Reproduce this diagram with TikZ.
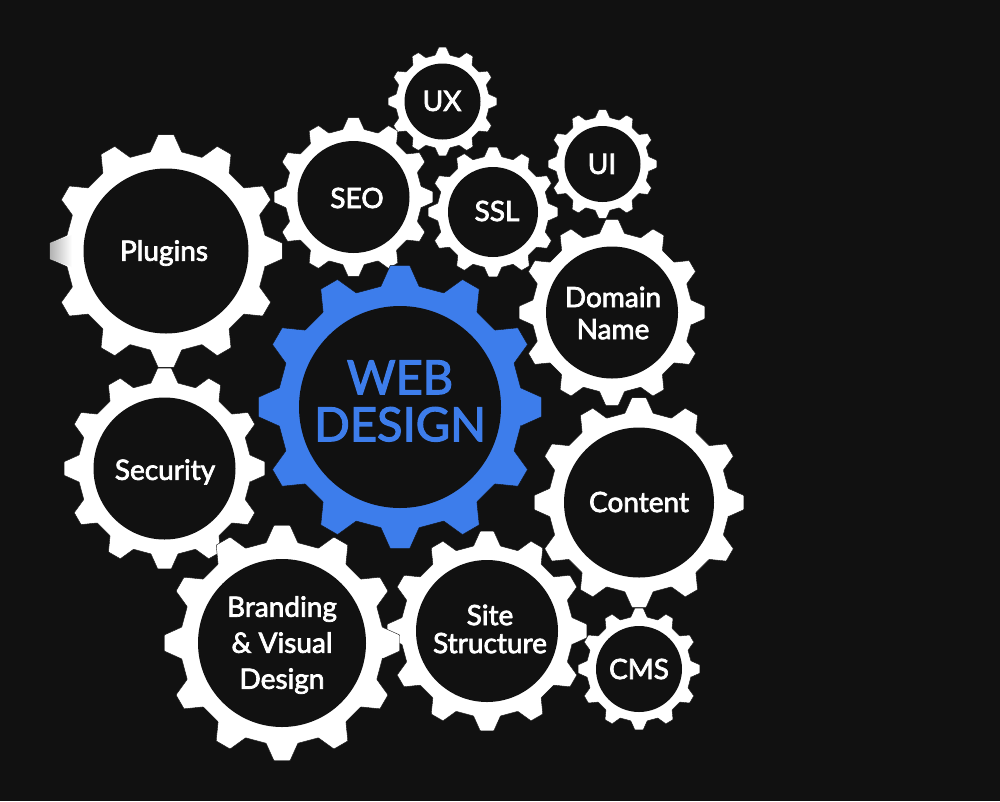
\documentclass[tikz,border=0pt]{standalone}
\usepackage{fontspec}
\setmainfont{Lato}[FakeBold=2.6]
\definecolor{bgc}{HTML}{111111}
\definecolor{bluec}{HTML}{3D7DEB}
\tikzset{
  x=1pt,y=-1pt,
  gearbody/.style={draw=bgc,line width=0.4pt,line join=round,rounded corners=0.5pt},
  hole/.style={circle,fill=bgc,inner sep=0pt,outer sep=0pt},
  gearlabel/.style={align=center,inner sep=0pt,text=white},
}
% name, cx, cy, R, hole radius, colour
\newcommand{\gearat}[6]{%
  \pgfmathsetmacro\Rroot{0.86*#4}%
  \begin{scope}[shift={(#2,#3)}]
    \fill[#6,gearbody] (-9:\Rroot pt)
      \foreach \a in {0,30,...,330}{
        -- ({\a-9}:\Rroot pt) -- ({\a-3.9}:#4pt) -- ({\a+3.9}:#4pt) -- ({\a+9}:\Rroot pt)
      } -- cycle;
  \end{scope}
  \pgfmathsetmacro\Dhole{2*#5}%
  \node[hole,minimum size=\Dhole pt] (#1) at (#2,#3) {};
}
\begin{document}
\begin{tikzpicture}
\fill[bgc] (0,0) rectangle (1000,801);
\useasboundingbox (0,0) rectangle (1000,801);
\gearat{security}{164.5}{468.5}{100.5}{71}{white}
\gearat{plugins}{166}{251}{116.5}{82.5}{white}
% faded tip of the left tooth of Plugins
\begin{scope}
  \clip (49.8,243) -- (49.8,259) -- (72,267) -- (72,235) -- cycle;
  \shade[left color=gray!60,right color=white] (50,230) rectangle (72,270);
\end{scope}
\gearat{content}{639}{502.5}{105}{75}{white}
\gearat{cms}{639}{669}{61}{43}{white}
\gearat{site}{487}{631}{100}{71}{white}
\gearat{branding}{282}{643}{118}{84}{white}
\gearat{ui}{602.5}{164}{54.5}{38}{white}
\gearat{ux}{442.5}{101.5}{54.5}{38}{white}
\gearat{ssl}{493}{212}{65}{45}{white}
\gearat{seo}{353.5}{197}{79.5}{56}{white}
\gearat{domain}{612}{312.5}{93}{66}{white}
\gearat{web}{400}{407}{142}{101}{bluec}

\node[gearlabel,font=\fontsize{28}{32}\selectfont] (tplugins) at (164,253) {Plugins};
\node[gearlabel,font=\fontsize{28}{32}\selectfont] (tseo) at (357,198) {SEO};
\node[gearlabel,font=\fontsize{28}{32}\selectfont] (tux) at (442,101) {UX};
\node[gearlabel,font=\fontsize{28}{32}\selectfont] (tssl) at (497,211) {SSL};
\node[gearlabel,font=\fontsize{28}{32}\selectfont] (tui) at (602,164) {UI};
\node[gearlabel,font=\fontsize{28}{32}\selectfont] (tdomain) at (613,313) {Domain\\Name};
\node[gearlabel,font=\fontsize{28}{32}\selectfont] (tsecurity) at (165,472) {Security};
\node[gearlabel,font=\fontsize{28}{32}\selectfont] (tcontent) at (639,502) {Content};
\node[gearlabel,font=\fontsize{28}{36}\selectfont] (tbranding) at (282,645) {Branding\\\& Visual\\Design};
\node[gearlabel,font=\fontsize{28}{28}\selectfont] (tsite) at (490,629) {Site\\Structure};
\node[gearlabel,font=\fontsize{28}{32}\selectfont] (tcms) at (639,669) {CMS};
\node[gearlabel,text=bluec,font=\fontsize{47}{47}\selectfont] (tweb) at (400,401) {WEB\\DESIGN};
\end{tikzpicture}
\end{document}
